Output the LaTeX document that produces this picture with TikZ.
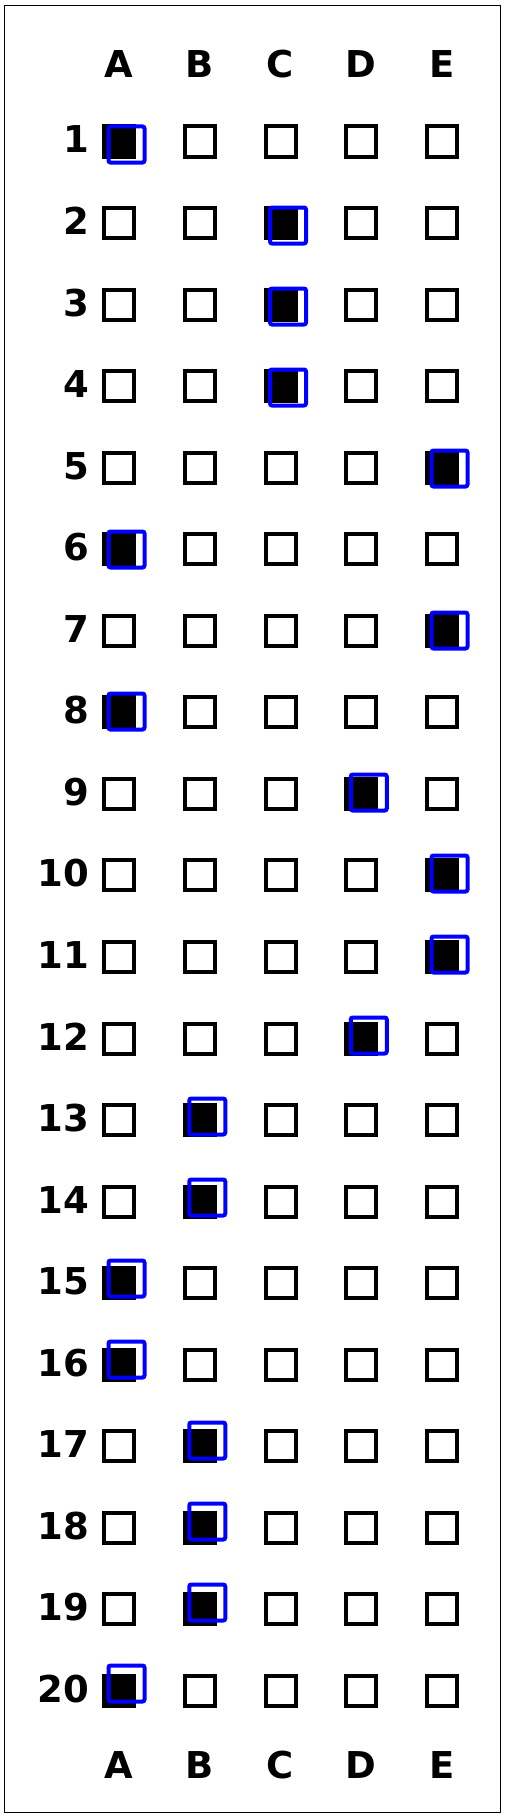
\documentclass[tikz,border=0pt]{standalone}
\usepackage{fontspec}
\setmainfont{DejaVu Sans}
\begin{document}
\begin{tikzpicture}[x=1pt,y=-1pt,
  box/.style={draw=black,line width=4pt,minimum size=30pt,inner sep=0pt,outer sep=0pt},
  filled/.style={box,fill=black},
  markbox/.style={draw=blue,line width=4pt,minimum size=36pt,inner sep=0pt,rounded corners=2pt},
  lbl/.style={inner sep=0pt,font=\fontsize{37}{40}\selectfont\bfseries},
  frame/.style={draw=black,line width=1.2pt}]
\useasboundingbox (0,0) rectangle (506,1817);
\node[frame,minimum width=496pt,minimum height=1807pt,inner sep=0pt,anchor=north west] (border) at (4,5) {};
% column headers
\foreach \c/\L in {1/A,2/B,3/C,4/D,5/E}{
  \pgfmathsetmacro{\cx}{119+(\c-1)*80.75}
  \node[lbl,anchor=base] (top-\c) at (\cx,78) {\L};
  \node[lbl,anchor=base] (bot-\c) at (\cx,1778) {\L};
}
% rows
\foreach \r/\a in {1/1,2/3,3/3,4/3,5/5,6/1,7/5,8/1,9/4,10/5,11/5,12/4,13/2,14/2,15/1,16/1,17/2,18/2,19/2,20/1}{
  \pgfmathsetmacro{\ry}{141.5+(\r-1)*81.55}
  \node[lbl,anchor=base east] (num-\r) at (89,\ry+11.5) {\r};
  \foreach \c in {1,...,5}{
    \pgfmathsetmacro{\cx}{119+(\c-1)*80.75}
    \ifnum\c=\a
      \node[filled] (b-\r-\c) at (\cx,\ry) {};
    \else
      \node[box] (b-\r-\c) at (\cx,\ry) {};
    \fi
  }
  \pgfmathsetmacro{\mx}{119+(\a-1)*80.75+7.5}
  \pgfmathsetmacro{\my}{\ry+3-(\r-1)*0.55}
  \node[markbox] (m-\r) at (\mx,\my) {};
}
\end{tikzpicture}
\end{document}
